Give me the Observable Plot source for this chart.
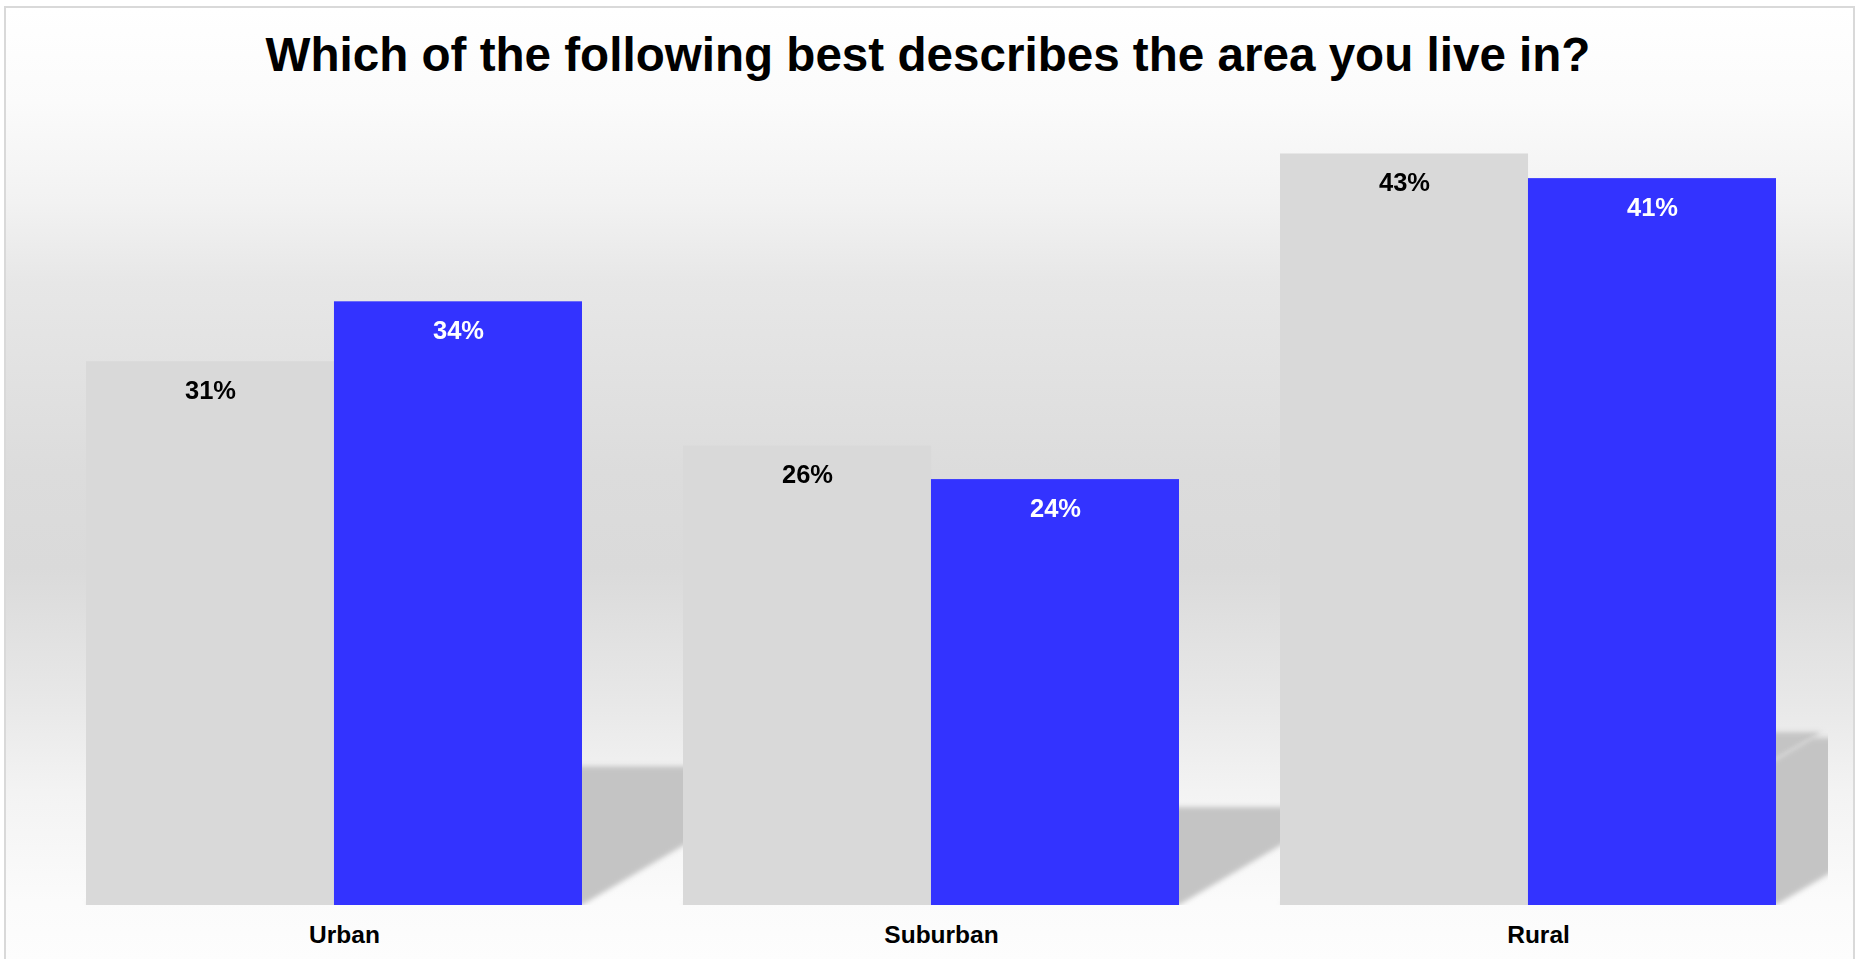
<!DOCTYPE html>
<html>
<head>
<meta charset="utf-8">
<script src="https://cdn.jsdelivr.net/npm/d3@7"></script>
<script src="https://cdn.jsdelivr.net/npm/@observablehq/plot@0.6"></script>
<style>
  html, body { margin: 0; padding: 0; overflow: hidden; background: #ffffff; }
  #frame {
    position: absolute; left: 4px; top: 6px; width: 1851px; height: 953px;
    box-sizing: border-box; border: 2px solid #d9d9d9; border-bottom: none;
    background: linear-gradient(to bottom,
      #ffffff 0px, #fbfbfb 94px, #f2f2f2 194px, #e7e7e7 274px, #dcdcdc 464px,
      #dadada 560px, #e8e8e8 694px, #f3f3f3 784px, #fbfbfb 894px, #fdfdfd 953px);
  }
  #chart { position: absolute; left: 0; top: 0; z-index: 1; }
  #title {
    position: absolute; left: 0; top: 31px; width: 1856px; z-index: 2;
    text-align: center; color: #000;
    font: bold 47.6px/47px "Liberation Sans", Arial, sans-serif;
  }
</style>
</head>
<body>
<div id="frame"></div>
<div id="chart"></div>
<div id="title"></div>
<script>
// ---- data (labels show the rounded percent) ----
const titleText = "Which of the following best describes the area you live in?";
const categories = ["Urban", "Suburban", "Rural"];
const seriesNames = ["Previous", "Current"];
const previousValues = [30.9, 26.1, 42.7];
const currentValues = [34.3, 24.2, 41.3];

// ---- table built from the arrays ----
const rows = categories.flatMap((c, i) => [
  {category: c, series: seriesNames[0], value: previousValues[i]},
  {category: c, series: seriesNames[1], value: currentValues[i]}
]);
const prevRows = rows.filter(d => d.series === seriesNames[0]);
const currRows = rows.filter(d => d.series === seriesNames[1]);

document.getElementById("title").textContent = titleText;

// ---- layout ----
const W = 1856, H = 959;
const xRange = [85, 1776];
const pad = 0.17;
const band = d3.scaleBand(categories, xRange).paddingInner(pad).paddingOuter(0);
const half = band.bandwidth() / 2;
const shadowFill = "#c4c4c4";
const labelFont = 25.5;
const pct = d => Math.round(d.value) + "%";

const marks = [
  // perspective shadows (transformed after render)
  Plot.barY(prevRows, {x: "category", y: "value", fill: shadowFill, insetRight: half, clip: true}),
  Plot.barY(currRows, {x: "category", y: "value", fill: shadowFill, insetLeft: half, clip: true}),
  // bars
  Plot.barY(prevRows, {x: "category", y: "value", fill: "#d9d9d9", insetRight: half}),
  Plot.barY(currRows, {x: "category", y: "value", fill: "#3333ff", insetLeft: half}),
  // value labels
  Plot.text(prevRows, {x: "category", y: "value", text: pct, dx: -half / 2, dy: 29,
    fill: "#000000", fontSize: labelFont, fontWeight: "bold"}),
  Plot.text(currRows, {x: "category", y: "value", text: pct, dx: half / 2, dy: 29,
    fill: "#ffffff", fontSize: labelFont, fontWeight: "bold"})
];
if (Plot.axisX) {
  marks.push(Plot.axisX({tickSize: 0, tickPadding: 20, dx: 10, label: null,
    fontSize: 24.5, fontWeight: "bold", fill: "#000"}));
}

const chart = Plot.plot({
  width: W, height: H,
  marginTop: 25, marginBottom: 54, marginLeft: 40, marginRight: 28,
  style: {background: "none", fontFamily: '"Liberation Sans", Arial, sans-serif',
    fontSize: "24.5px", fontWeight: "bold", color: "#000", overflow: "visible"},
  x: {domain: categories, range: xRange, paddingInner: pad, paddingOuter: 0,
    label: null, tickSize: 0, tickPadding: 20},
  y: {domain: [0, 50], axis: null},
  marks
});
document.getElementById("chart").appendChild(chart);

// ---- shadow post-processing: squash + skew toward upper right, then blur ----
const svg = d3.select(chart);
const y0 = chart.scale("y").apply(0);
const k = 0.23, s = 1.7;
const defs = svg.insert("defs", ":first-child");
defs.append("filter").attr("id", "shadow-blur")
  .attr("x", "-20%").attr("y", "-20%").attr("width", "140%").attr("height", "140%")
  .append("feGaussianBlur").attr("stdDeviation", 2.5);
const shadowGroups = svg.selectAll(`g[fill="${shadowFill}"]`);
shadowGroups.attr("filter", "url(#shadow-blur)");
shadowGroups.selectAll("rect")
  .filter(function () { return this.parentNode.nodeName.toLowerCase() !== "clippath"; })
  .attr("transform", `matrix(1,0,${-s * k},${k},${s * k * y0},${(1 - k) * y0})`);
</script>
</body>
</html>
